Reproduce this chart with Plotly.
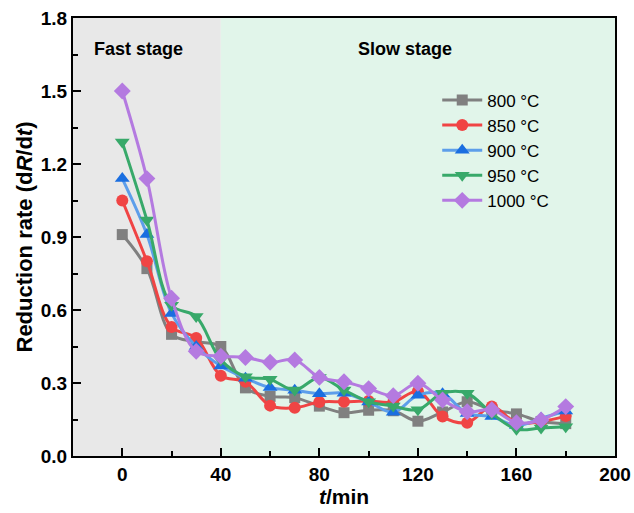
import plotly.graph_objects as go

t = [0, 10, 20, 30, 40, 50, 60, 70, 80, 90, 100, 110, 120, 130, 140, 150, 160, 170, 180]
r800 = [0.91, 0.77, 0.50, 0.47, 0.45, 0.28, 0.245, 0.24, 0.205, 0.178, 0.188, 0.186, 0.143, 0.181, 0.223, 0.189, 0.173, 0.142, 0.133]
r850 = [1.05, 0.80, 0.53, 0.485, 0.33, 0.305, 0.207, 0.198, 0.222, 0.223, 0.226, 0.222, 0.266, 0.162, 0.137, 0.203, 0.137, 0.142, 0.164]
r900 = [1.14, 0.91, 0.586, 0.45, 0.37, 0.32, 0.281, 0.27, 0.256, 0.258, 0.222, 0.18, 0.25, 0.256, 0.175, 0.162, 0.125, 0.155, 0.185]
r950 = [1.29, 0.97, 0.62, 0.573, 0.395, 0.326, 0.315, 0.271, 0.323, 0.271, 0.223, 0.205, 0.19, 0.258, 0.258, 0.175, 0.11, 0.115, 0.12]
r1000 = [1.50, 1.14, 0.648, 0.43, 0.41, 0.405, 0.385, 0.395, 0.323, 0.305, 0.277, 0.248, 0.299, 0.23, 0.182, 0.19, 0.137, 0.148, 0.203]

series = [
    ("800 °C", r800, "#808080", "#808080", "square", 11),
    ("850 °C", r850, "#f04444", "#f04444", "circle", 12),
    ("900 °C", r900, "#5d9eea", "#1a6ee0", "triangle-up", 13),
    ("950 °C", r950, "#38a96a", "#38a96a", "triangle-down", 13),
    ("1000 °C", r1000, "#b47ae0", "#b47ae0", "diamond", 13),
]

FONT = "Arial, Liberation Sans"

fig = go.Figure()
for name, ys, lc, mc, sym, sz in series:
    fig.add_trace(go.Scatter(
        x=t, y=ys, name=name, mode="lines+markers",
        line=dict(color=lc, width=3, shape="spline", smoothing=1.0),
        marker=dict(color=mc, symbol=sym, size=sz, line=dict(width=0)),
    ))

fig.add_vrect(x0=-20, x1=40, fillcolor="#e8e8e8", line_width=0, layer="below")
fig.add_vrect(x0=40, x1=200, fillcolor="#e1f5ea", line_width=0, layer="below")

fig.add_annotation(x=6.7, y=1.673, text="<b>Fast stage</b>", showarrow=False,
                   font=dict(family=FONT, size=18, color="black"))
fig.add_annotation(x=114.8, y=1.673, text="<b>Slow stage</b>", showarrow=False,
                   font=dict(family=FONT, size=18, color="black"))

fig.update_layout(
    width=634, height=513,
    margin=dict(l=73, r=19, t=18, b=57),
    paper_bgcolor="white", plot_bgcolor="white",
    font=dict(family=FONT, size=15, color="black"),
    showlegend=True,
    legend=dict(x=0.672, y=0.853, xanchor="left", yanchor="top",
                bgcolor="rgba(0,0,0,0)", font=dict(size=17, family=FONT),
                itemwidth=40, tracegroupgap=0),
)
fig.update_xaxes(
    range=[-20, 200], tickvals=[0, 40, 80, 120, 160, 200],
    ticks="inside", ticklen=8, tickwidth=2, tickcolor="black",
    minor=dict(tickvals=[-20, 20, 60, 100, 140, 180], ticks="inside", ticklen=5, tickwidth=2, tickcolor="black"),
    showline=True, linecolor="black", linewidth=2, mirror=True,
    showgrid=False, zeroline=False, automargin=False,
    tickfont=dict(size=19, family=FONT, weight="bold"),
    title=dict(text="<b><i>t</i>/min</b>", font=dict(size=21, family=FONT), standoff=4),
)
fig.update_yaxes(
    range=[0, 1.8], tickvals=[0, 0.3, 0.6, 0.9, 1.2, 1.5, 1.8],
    ticktext=["0.0", "0.3", "0.6", "0.9", "1.2", "1.5", "1.8"],
    ticks="inside", ticklen=8, tickwidth=2, tickcolor="black",
    minor=dict(tickvals=[0.15, 0.45, 0.75, 1.05, 1.35, 1.65], ticks="inside", ticklen=5, tickwidth=2, tickcolor="black"),
    showline=True, linecolor="black", linewidth=2, mirror=True,
    showgrid=False, zeroline=False, automargin=False,
    tickfont=dict(size=19, family=FONT, weight="bold"),
    title=dict(text="<b>Reduction rate (d<i>R</i>/d<i>t</i>)</b>", font=dict(size=22, family=FONT), standoff=2),
)

fig.write_html("out.html")
